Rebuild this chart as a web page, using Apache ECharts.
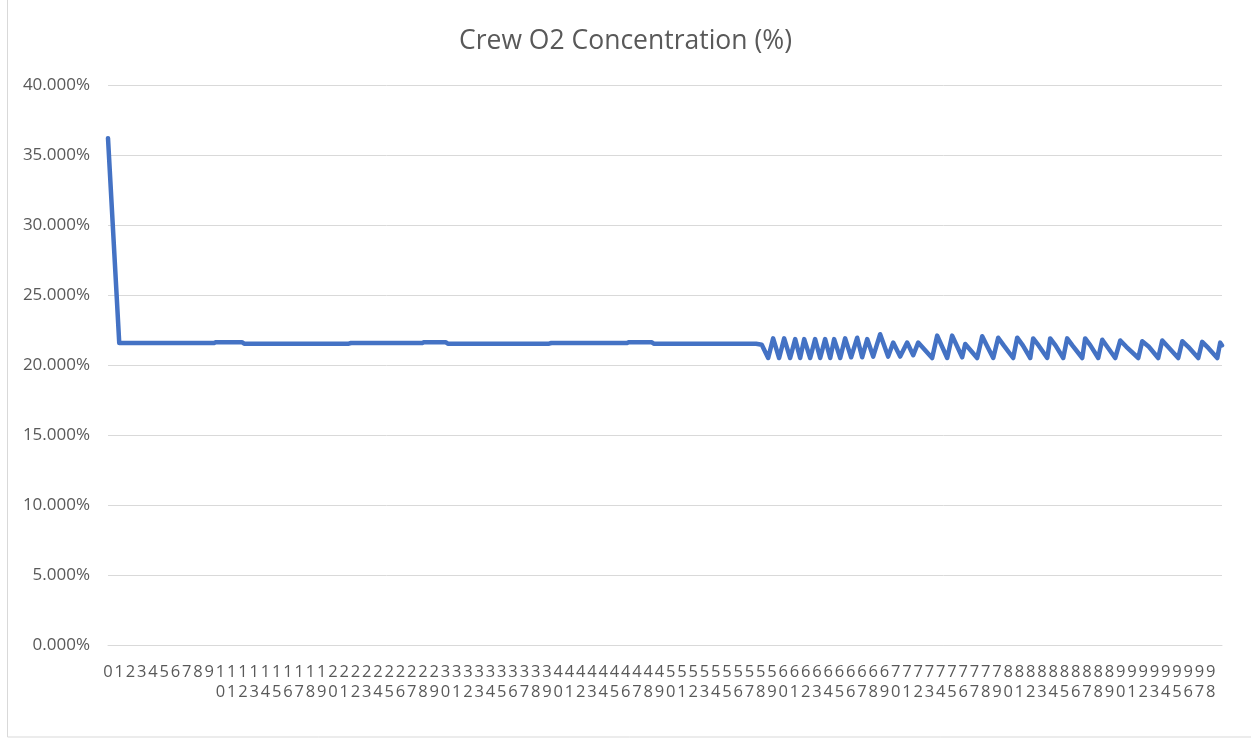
<!DOCTYPE html>
<html>
<head>
<meta charset="utf-8">
<script src="https://cdn.jsdelivr.net/npm/echarts@6/dist/echarts.min.js"></script>
<style>html,body{margin:0;padding:0;background:#fff}#c{width:1251px;height:740px}</style>
</head>
<body>
<div id="c"></div>
<script>
// Category position (index of x tick) and O2 concentration (%)
var timeIdx = [
  0, 1.0, 9.4, 9.6, 11.9, 12.1, 21.4, 21.6, 27.9, 28.1, 30.0, 30.2, 39.2, 39.4, 46.1, 46.3, 48.3, 48.5, 57.6, 58.1,
  58.67, 59.11, 59.64, 60.09, 60.62, 61.07, 61.51, 61.87, 62.40, 62.84, 63.29, 63.73, 64.18, 64.53, 65.07, 65.51,
  66.04, 66.58, 67.02, 67.47, 68.00, 68.62, 69.33, 69.78, 70.40, 71.02, 71.56, 72.00, 73.24, 73.69, 74.58, 75.02,
  75.91, 76.18, 77.24, 77.69, 78.10,
  78.67, 79.11, 79.60, 80.44, 80.80, 81.30, 81.96, 82.22, 82.70, 83.47, 83.73, 84.20, 84.89, 85.24, 85.70,
  86.58, 86.84, 87.30, 88.00, 88.36, 88.80, 89.51, 89.96, 90.50, 91.56, 91.91, 92.50, 93.33, 93.69, 94.20,
  95.11, 95.47, 96.00, 96.89, 97.24, 97.80, 98.58, 98.84, 99.00
];
var o2Pct = [
  36.2, 21.57, 21.57, 21.63, 21.63, 21.52, 21.52, 21.57, 21.57, 21.63, 21.63, 21.52, 21.52, 21.57, 21.57, 21.63, 21.63, 21.52, 21.52, 21.45,
  20.5, 21.9, 20.5, 21.9, 20.5, 21.85, 20.5, 21.85, 20.5, 21.85, 20.5, 21.85, 20.5, 21.85, 20.5, 21.9,
  20.55, 21.95, 20.55, 21.85, 20.6, 22.2, 20.6, 21.6, 20.6, 21.6, 20.7, 21.6, 20.5, 22.1, 20.5, 22.1,
  20.55, 21.5, 20.5, 22.05, 21.4,
  20.5, 21.95, 21.4, 20.5, 21.95, 21.4, 20.5, 21.9, 21.4, 20.5, 21.9, 21.4, 20.5, 21.9, 21.4,
  20.5, 21.9, 21.4, 20.5, 21.8, 21.3, 20.5, 21.75, 21.3, 20.5, 21.7, 21.3, 20.5, 21.75, 21.3,
  20.5, 21.7, 21.3, 20.5, 21.65, 21.2, 20.5, 21.6, 21.4
];
var titleText = 'Crew O2 Concentration (%)';
var xTickCount = 99;   // tick labels 0 .. 98
var yMin = 0, yMax = 40, yStep = 5;

var seriesData = timeIdx.map(function (t, i) { return [t, o2Pct[i]]; });

var chart = echarts.init(document.getElementById('c'), null, {renderer: 'canvas'});
var FONT = '"Open Sans", "Liberation Sans", sans-serif';
chart.setOption({
  animation: false,
  backgroundColor: '#fff',
  graphic: [{
    type: 'rect', silent: true,
    shape: {x: 7.5, y: -2, width: 1250, height: 739},
    style: {fill: 'none', stroke: '#d9d9d9', lineWidth: 1}
  }],
  title: {
    text: titleText, left: 'center', top: 23,
    textStyle: {fontFamily: FONT, fontSize: 26.5, fontWeight: 'normal', color: '#595959'}
  },
  grid: {left: 108, right: 29, top: 85, bottom: 95, containLabel: false},
  xAxis: {
    type: 'value', min: 0, max: xTickCount, interval: 1,
    axisLine: {show: true, lineStyle: {color: '#d9d9d9', width: 1}},
    axisTick: {show: false},
    splitLine: {show: false},
    axisLabel: {
      show: true, margin: 17, showMaxLabel: false,
      fontFamily: FONT, fontSize: 16.5, color: '#595959', lineHeight: 20,
      formatter: function (v) {
        if (v >= xTickCount) return '';
        return String(Math.round(v)).split('').join('\n');
      }
    }
  },
  yAxis: {
    type: 'value', min: yMin, max: yMax, interval: yStep,
    axisLine: {show: false}, axisTick: {show: false},
    splitLine: {show: true, lineStyle: {color: '#d9d9d9', width: 1}},
    axisLabel: {
      margin: 18, fontFamily: FONT, fontSize: 17, color: '#595959',
      formatter: function (v) { return v.toFixed(3) + '%'; }
    }
  },
  series: [{
    type: 'line', data: seriesData, showSymbol: false, symbol: 'none',
    lineStyle: {color: '#4472C4', width: 4.5, cap: 'round', join: 'round'},
    z: 3
  }]
});
</script>
</body>
</html>
